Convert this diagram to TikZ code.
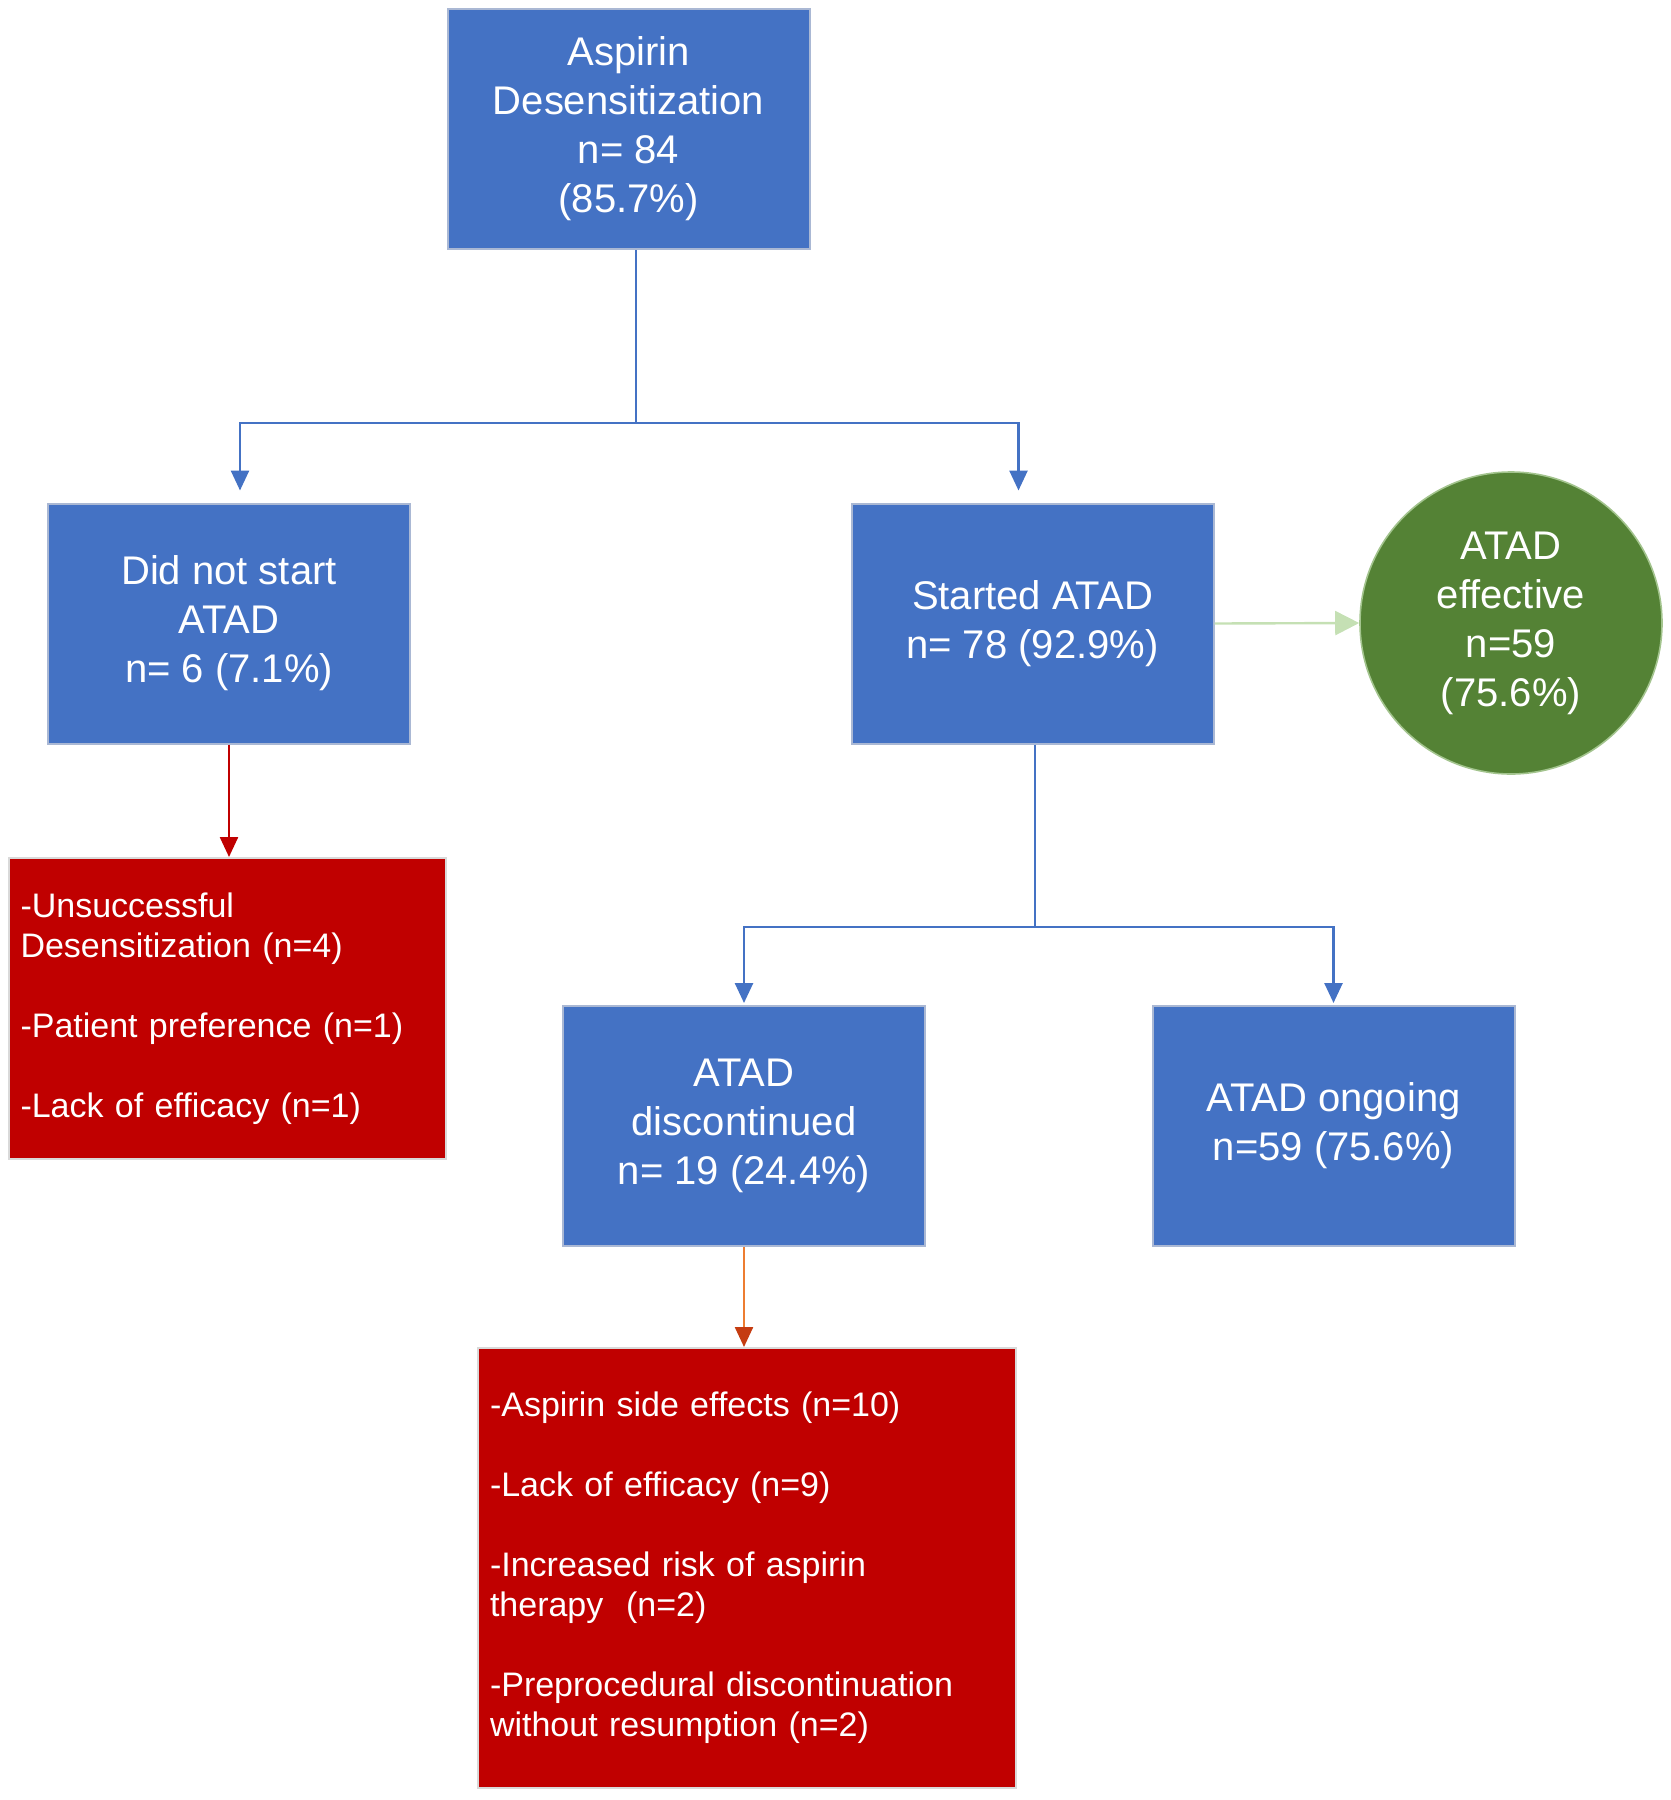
\documentclass[tikz,border=0pt]{standalone}
\usepackage{fontspec}
\setmainfont{Liberation Sans}
\usetikzlibrary{arrows.meta}

\definecolor{boxblue}{RGB}{68,114,196}
\definecolor{boxedge}{RGB}{170,184,212}
\definecolor{boxred}{RGB}{192,0,0}
\definecolor{okgreen}{RGB}{84,130,53}
\definecolor{palegreen}{RGB}{197,224,180}
\definecolor{lineorange}{RGB}{237,125,49}
\definecolor{headorange}{RGB}{197,60,17}

\begin{document}
\begin{tikzpicture}[x=0.5pt, y=-0.5pt, >={Triangle[width=9pt,length=10pt]},
  bluebox/.style={draw=boxedge, line width=1pt, fill=boxblue, text=white,
    align=center, minimum width=181pt, minimum height=120pt, inner sep=0pt,
    font=\fontsize{20}{24.5}\selectfont},
  redbox/.style={draw=gray!30, line width=1pt, fill=boxred, text=white,
    align=left, inner xsep=6pt, font=\fontsize{17}{20}\selectfont},
  bline/.style={draw=boxblue, line width=1.3pt}]

\useasboundingbox (0,0) rectangle (1671,1800);

%========================
% 箱
%========================
\node[bluebox] (top) at (628.5,129) {Aspirin\\Desensitization\\n= 84\\(85.7\%)};
\node[bluebox] (nostart) at (229,623.5) {Did not start\\ATAD\\n= 6 (7.1\%)};
\node[bluebox] (started) at (1032.5,623.5) {Started ATAD\\n= 78 (92.9\%)};
\node[circle, draw=palegreen!70!okgreen, line width=0.8pt, fill=okgreen, text=white,
  align=center, minimum size=151pt, inner sep=0pt,
  font=\fontsize{20}{24.5}\selectfont] (effective) at (1511,623)
  {ATAD\\effective\\n=59\\(75.6\%)};
\node[bluebox] (disc) at (744,1126) {ATAD\\discontinued\\n= 19 (24.4\%)};
\node[bluebox] (ongoing) at (1333.5,1126) {ATAD ongoing\\n=59 (75.6\%)};

\node[redbox, text width=206.5pt, minimum height=150.5pt] (whynot) at (227,1008.5)
  {-Unsuccessful\\Desensitization (n=4)\\[20pt]
   -Patient preference (n=1)\\[20pt]
   -Lack of efficacy (n=1)};
\node[redbox, text width=257pt, minimum height=220pt] (whystop) at (747,1568)
  {-Aspirin side effects (n=10)\\[20pt]
   -Lack of efficacy (n=9)\\[20pt]
   -Increased risk of aspirin\\therapy\ \ (n=2)\\[20pt]
   -Preprocedural discontinuation\\without resumption (n=2)};

%========================
% 分岐
%========================
\coordinate (s1) at (636,423);
\coordinate (s2) at (1035,927);
\draw[bline] (s1 |- top.south) -- (s1);
\draw[bline, ->, shorten >=6pt] (s1) -| ([xshift=5.5pt]nostart.north);
\draw[bline, ->, shorten >=6pt] (s1) -| ([xshift=-7pt]started.north);
\draw[bline] (s2 |- started.south) -- (s2);
\draw[bline, ->, shorten >=1pt] (s2) -| (disc.north);
\draw[bline, ->, shorten >=1pt] (s2) -| (ongoing.north);

%========================
% 理由・効果
%========================
\draw[->, boxred, line width=1.2pt] (nostart.south) -- (nostart.south |- whynot.north);
\draw[->, lineorange, line width=1.2pt, >={Triangle[width=9pt,length=10pt,color=headorange]}]
  (disc.south) -- (disc.south |- whystop.north);
\draw[->, palegreen, line width=1.2pt, >={Triangle[width=12pt,length=12pt]}]
  (started.east) -- (effective.west);

\end{tikzpicture}
\end{document}
